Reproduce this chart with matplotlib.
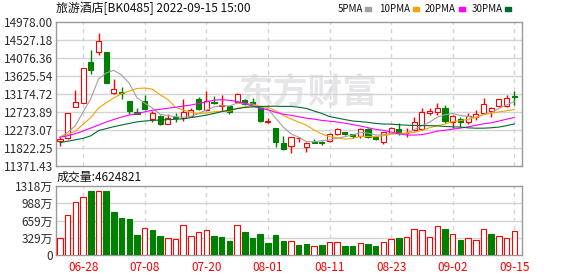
import numpy as np
import matplotlib.pyplot as plt
from matplotlib.patches import Rectangle
plt.switch_backend("Agg")

plt.rcParams['font.family'] = ['Noto Sans CJK SC', 'DejaVu Sans']

# ---- data ----
opens = [11982, 12057, 12834, 12934, 13968, 14226, 14219, 13184, 13224, 12991,
         12723, 12991, 12541, 12623, 12408, 12585, 12558, 12623, 13042, 12766,
         12974, 12859, 12866, 12974, 13017, 12960, 12834, 12478, 12308, 11932,
         11872, 12060, 11832, 11965, 11950, 11982, 12165, 12207, 12157, 12122,
         12283, 12082, 11972, 12182, 12283, 12182, 12265, 12283, 12683, 12723,
         12809, 12473, 12533, 12458, 12583, 12698, 12748, 12866, 12866, 13124]
highs = [12082, 12690, 13267, 13811, 14269, 14687, 14219, 13535, 13350, 12991,
         12809, 13134, 12748, 12640, 12658, 12683, 13042, 12809, 13099, 13242,
         13117, 13134, 12870, 13199, 13042, 13074, 12840, 12558, 12308, 12115,
         12090, 12097, 11972, 12040, 11997, 12197, 12308, 12215, 12160, 12308,
         12308, 12090, 12222, 12333, 12433, 12323, 12598, 12809, 12809, 12934,
         12891, 12630, 12598, 12698, 12766, 13059, 12834, 13040, 13142, 13250]
lows = [11864, 12032, 12834, 12934, 13668, 14151, 13435, 13167, 13049, 12666,
        12658, 12766, 12473, 12400, 12408, 12473, 12483, 12598, 12766, 12749,
        12916, 12749, 12658, 12959, 12891, 12891, 12473, 12433, 11847, 11764,
        11696, 11965, 11721, 11932, 11882, 11965, 12140, 12132, 12072, 12057,
        12057, 12020, 11914, 12182, 12140, 12082, 12248, 12265, 12641, 12641,
        12448, 12308, 12333, 12415, 12516, 12683, 12598, 12834, 12849, 12891]
closes = [12032, 12683, 12959, 13811, 13768, 14487, 13450, 13285, 13199, 12748,
          12673, 12784, 12683, 12408, 12560, 12565, 12708, 12766, 12799, 12999,
          12934, 12884, 12708, 13167, 12916, 12905, 12498, 12490, 11972, 11789,
          12082, 12075, 11940, 11950, 11940, 12165, 12283, 12172, 12122, 12283,
          12082, 12032, 12207, 12308, 12182, 12197, 12473, 12708, 12748, 12809,
          12498, 12623, 12473, 12623, 12658, 12909, 12809, 13034, 13059, 13099]
pre_close = 11960  # close before the first bar shown

ma5 = [12086, 12203, 12375, 12717, 13051, 13542, 13695, 13760, 13638, 13434,
       13071, 12938, 12817, 12659, 12626, 12601, 12586, 12603, 12681, 12764,
       12841, 12876, 12865, 12938, 12922, 12920, 12843, 12801, 12562, 12337,
       12168, 12084, 11975, 11970, 12000, 12017, 12058, 12101, 12136, 12205,
       12188, 12138, 12145, 12182, 12162, 12185, 12273, 12374, 12462, 12587,
       12647, 12677, 12630, 12605, 12575, 12657, 12694, 12807, 12894, 12982]
ma10 = [12093, 12151, 12237, 12409, 12575, 12814, 12949, 13068, 13177, 13242,
        13306, 13316, 13289, 13149, 13030, 12836, 12762, 12710, 12670, 12695,
        12721, 12731, 12734, 12810, 12843, 12881, 12860, 12833, 12750, 12629,
        12544, 12463, 12388, 12266, 12168, 12093, 12071, 12038, 12053, 12103,
        12103, 12098, 12123, 12159, 12184, 12187, 12206, 12259, 12322, 12375,
        12416, 12475, 12502, 12533, 12581, 12652, 12686, 12718, 12749, 12778]
ma20 = [12085, 12120, 12175, 12240, 12315, 12390, 12465, 12530, 12590, 12640,
        12675, 12720, 12760, 12785, 12810, 12835, 12865, 12890, 12930, 12969,
        13014, 13024, 13011, 12979, 12936, 12858, 12811, 12771, 12710, 12662,
        12633, 12597, 12561, 12538, 12506, 12487, 12465, 12436, 12402, 12366,
        12323, 12281, 12256, 12213, 12176, 12140, 12138, 12149, 12188, 12239,
        12259, 12287, 12313, 12346, 12382, 12420, 12446, 12489, 12536, 12577]
ma30 = [11950, 11985, 12020, 12057, 12120, 12250, 12300, 12350, 12390, 12430,
        12470, 12490, 12505, 12515, 12525, 12535, 12545, 12575, 12605, 12640,
        12680, 12725, 12765, 12800, 12830, 12845, 12855, 12860, 12862, 12856,
        12857, 12837, 12804, 12741, 12680, 12603, 12564, 12527, 12491, 12476,
        12456, 12431, 12415, 12412, 12398, 12387, 12379, 12377, 12375, 12369,
        12354, 12346, 12338, 12320, 12311, 12311, 12321, 12339, 12375, 12419]

# volume in 万
volume = [319, 758, 1006, 1102, 1222, 1222, 1222, 821, 700, 688,
          382, 510, 478, 363, 319, 300, 567, 357, 439, 471,
          363, 344, 267, 567, 439, 325, 401, 229, 382, 267,
          267, 191, 210, 166, 191, 248, 248, 172, 172, 229,
          210, 172, 248, 306, 325, 344, 490, 471, 344, 554,
          497, 401, 293, 319, 287, 497, 401, 363, 325, 462.48]

price_ticks = [11371.43, 11822.25, 12273.07, 12723.89, 13174.72,
               13625.54, 14076.36, 14527.18, 14978.00]
price_labels = ["11371.43", "11822.25", "12273.07", "12723.89", "13174.72",
                "13625.54", "14076.36", "14527.18", "14978.00"]
vol_ticks = [0, 329.5, 659, 988.5, 1318]
vol_labels = ["0", "329万", "659万", "988万", "1318万"]
date_idx = [3, 11, 19, 27, 35, 43, 51, 59]
date_labels = ["06-28", "07-08", "07-20", "08-01", "08-11", "08-23", "09-02", "09-15"]

title = "旅游酒店[BK0485] 2022-09-15 15:00"
vol_title = "成交量:4624821"
ma_names = ["5PMA", "10PMA", "20PMA", "30PMA"]

RED = "#ff0000"
GREEN = "#008000"
MA_COLORS = ["#a0a0a0", "#f5a300", "#ff00ff", "#006b2e"]
GRID = "#d4d4d4"
SPINE = "#999999"
LABEL = "#2b2b2b"

W, H = 578, 276
fig = plt.figure(figsize=(W / 100, H / 100), dpi=100)
ax = fig.add_axes([56 / W, 1 - 165.7 / H, 466 / W, 144 / H])
axv = fig.add_axes([56 / W, 1 - 255 / H, 466 / W, 69 / H])

x = np.arange(len(closes))
o = np.array(opens, float)
c = np.array(closes, float)
up = c >= o

# candles
ax.vlines(x, lows, highs, colors=np.where(up, RED, GREEN), linewidth=1, zorder=2)
body_lo = np.minimum(o, c)
body_h = np.maximum(np.abs(c - o), 15)
ax.bar(x, body_h, bottom=body_lo, width=0.66,
       color=np.where(up, "white", GREEN), edgecolor=np.where(up, RED, GREEN),
       linewidth=0.8, zorder=3)

for vals, col in zip([ma5, ma10, ma20, ma30], MA_COLORS):
    ax.plot(x, vals, color=col, linewidth=0.8, zorder=4)

# volume
prev = np.concatenate([[pre_close], c[:-1]])
vup = c >= prev
axv.bar(x, volume, width=0.72, color=np.where(vup, "white", GREEN),
        edgecolor=np.where(vup, RED, GREEN), linewidth=0.8, zorder=3)

for a in (ax, axv):
    a.set_xlim(-0.52, 60.0)
    for s in a.spines.values():
        s.set_color(SPINE)
        s.set_linewidth(1)
    a.tick_params(length=0, pad=2, labelsize=8.5, colors=LABEL)
    for xi in date_idx:
        a.axvline(xi, color=GRID, linewidth=1, linestyle=(0, (3, 3)), zorder=1)

ax.set_ylim(price_ticks[0], price_ticks[-1])
ax.set_yticks(price_ticks)
ax.set_yticklabels(price_labels)
ax.set_xticks([])
for t in price_ticks[1:-1]:
    ax.axhline(t, color=GRID, linewidth=1, zorder=1)

axv.set_ylim(0, 1318)
axv.set_yticks(vol_ticks)
axv.set_yticklabels(vol_labels)
axv.set_xticks(date_idx)
axv.set_xticklabels(date_labels, color=RED)
axv.tick_params(axis="x", pad=4)
for t in vol_ticks[1:-1]:
    axv.axhline(t, color=GRID, linewidth=1, zorder=1)

# watermark
ax.text(308 / W, 1 - 92 / H, "东方财富", transform=fig.transFigure,
        fontsize=25, fontweight="bold", color="#e6e6ea", ha="center",
        va="center", zorder=0.5)

fig.text(56 / W, 1 - 8.5 / H, title, fontsize=8.6, color="#111111", va="center")
fig.text(57 / W, 1 - 177 / H, vol_title, fontsize=8.6, color="#111111", va="center")

# legend
leg_x = [338, 379, 425, 472]
box_x = [365, 413, 459, 505]
for name, lx, bx, col in zip(ma_names, leg_x, box_x, MA_COLORS):
    fig.text(lx / W, 1 - 8.5 / H, name, fontsize=7, color="#111111", va="center")
    fig.patches.append(Rectangle((bx / W, 1 - 10.7 / H), 6 / W, 3.5 / H,
                                 transform=fig.transFigure, color=col))

fig.savefig("out.png", dpi=100)
plt.close(fig)
